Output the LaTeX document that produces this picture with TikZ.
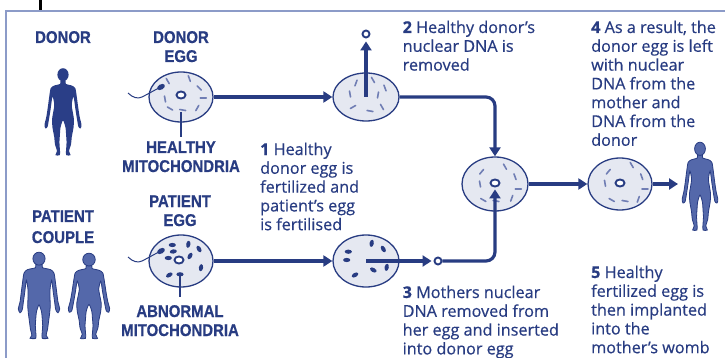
\documentclass[tikz,border=0pt]{standalone}
\usepackage{fontspec}
\setmainfont{Open Sans}[FakeBold=0.5]
\newfontfamily\capsfont{Liberation Sans}[FakeStretch=0.88, FakeBold=0.6]
\usetikzlibrary{arrows.meta,shapes.geometric}

\definecolor{navy}{RGB}{40,60,130}
\definecolor{darkfig}{RGB}{42,62,135}
\definecolor{figblue}{RGB}{84,104,170}
\definecolor{cellfill}{RGB}{229,232,241}
\definecolor{mito}{RGB}{112,126,180}
\definecolor{framec}{RGB}{140,155,200}

\tikzset{
  conn/.style={draw=navy, line width=3.2pt},
  arr/.style={conn, -{Triangle[length=9pt,width=11pt]}},
  cell/.style={ellipse, draw=navy, line width=1.3pt, fill=cellfill, inner sep=0pt},
  nucleus/.style={ellipse, draw=navy, line width=1.9pt, fill=white, minimum width=9pt, minimum height=7pt, inner sep=0pt},
  capslabel/.style={font=\capsfont\bfseries\fontsize{17}{19}\selectfont, text=navy, align=center, anchor=base, inner sep=0pt},
  body/.style={font=\fontsize{16.2}{18.8}\selectfont, text=navy, align=left, anchor=base west, inner sep=0pt},
  pointer/.style={draw=navy, line width=1.4pt},
  lightmito/.style={draw=mito, line width=1.6pt, line cap=round},
}

% light (healthy) mitochondrion: x, y, angle
\newcommand\lm[3]{\draw[lightmito] (#1,#2) ++(#3:-3) -- ++(#3:6);}
% dark (abnormal) mitochondrion: x, y, angle
\newcommand\dm[3]{\fill[navy, shift={(#1,#2)}, rotate=#3] (0,0) ellipse (3.6 and 2.1);}
% sperm cell attached to the left of an egg centred at x, y
\newcommand\sperm[2]{%
  \begin{scope}[shift={(#1,#2)}]
    \draw[navy, line width=1pt] (-53,-4) .. controls (-48,1) and (-43,2) .. (-39,0)
      .. controls (-33,-3) and (-28,-6) .. (-23,-8.5);
    \fill[navy, shift={(-20,-10)}, rotate=30] (0,0) ellipse (4.2 and 2.6);
  \end{scope}}

% silhouettes: x, top y, xscale, yscale, paint options
\newcommand\femalefig[5]{%
  \begin{scope}[shift={(#1,#2)}, xscale=#3, yscale=#4]
    \path[#5] plot[smooth cycle, tension=0.45] coordinates {
      (2.2,12.5) (2.5,16) (8,17.8) (11,20.5) (12.3,29) (13.6,40) (15,50)
      (16.5,57) (15.8,61) (13.8,59.5) (12.4,51) (11,41) (9.4,29) (7.8,37)
      (8.8,45) (9.8,52) (9.4,60) (7.8,70) (7.2,77) (5.4,84) (6.8,88) (2.8,88)
      (2.8,82) (3.2,75) (2.8,68) (2.2,60) (0,53)
      (-2.2,60) (-2.8,68) (-3.2,75) (-2.8,82) (-2.8,88) (-6.8,88) (-5.4,84)
      (-7.2,77) (-7.8,70) (-9.4,60) (-9.8,52) (-8.8,45) (-7.8,37) (-9.4,29)
      (-11,41) (-12.4,51) (-13.8,59.5) (-15.8,61) (-16.5,57) (-15,50)
      (-13.6,40) (-12.3,29) (-11,20.5) (-8,17.8) (-2.5,16) (-2.2,12.5)};
    \path[#5] (0,6.8) ellipse (5 and 6.6);
  \end{scope}}
\newcommand\malefig[5]{%
  \begin{scope}[shift={(#1,#2)}, xscale=#3, yscale=#4]
    \path[#5] plot[smooth cycle, tension=0.45] coordinates {
      (2.7,12.5) (3,16) (10,18) (13,21.5) (14.3,31) (15.5,42) (16.5,51)
      (18,58) (16.5,62) (14.6,59) (13.6,51) (12.4,41) (11,29) (9.6,38)
      (9.6,48) (9.8,55) (9.2,63) (8.2,72) (7.4,79) (6.2,85) (7.8,88) (2.8,88)
      (2.8,82) (3.2,75) (2.8,68) (2.2,61) (0,54)
      (-2.2,61) (-2.8,68) (-3.2,75) (-2.8,82) (-2.8,88) (-7.8,88) (-6.2,85)
      (-7.4,79) (-8.2,72) (-9.2,63) (-9.8,55) (-9.6,48) (-9.6,38) (-11,29)
      (-12.4,41) (-13.6,51) (-14.6,59) (-16.5,62) (-18,58) (-16.5,51)
      (-15.5,42) (-14.3,31) (-13,21.5) (-10,18) (-3,16) (-2.7,12.5)};
    \path[#5] (0,6.8) ellipse (5.3 and 6.6);
  \end{scope}}

\begin{document}
\begin{tikzpicture}[x=1pt, y=-1pt]
  \useasboundingbox (0,0) rectangle (725,358);
  \fill[white] (0,0) rectangle (725,358);

  % panel frame and marker
  \draw[framec, line width=1.5pt] (6,358) -- (6,11) -- (725,11);
  \fill[black] (38.5,0) rectangle (41.5,10);

  % people
  \femalefig{63}{68}{1.12}{0.99}{fill=darkfig}
  \malefig{39}{252}{1.15}{0.98}{fill=figblue, draw=navy, line width=0.8pt}
  \femalefig{89}{253}{1.25}{0.97}{fill=figblue, draw=navy, line width=0.8pt}
  \femalefig{700}{142}{1.08}{1.0}{fill=figblue, draw=navy, line width=0.8pt}

  % cells
  \node[cell, minimum width=64pt, minimum height=50pt] (egg1) at (181,97) {};
  \node[cell, minimum width=66pt, minimum height=48pt] (cell2) at (366,97) {};
  \node[cell, minimum width=64pt, minimum height=52pt] (egg2) at (181,261) {};
  \node[cell, minimum width=66pt, minimum height=52pt] (cell5) at (366,261) {};
  \node[cell, minimum width=66pt, minimum height=54pt] (cell3) at (495,184) {};
  \node[cell, minimum width=64pt, minimum height=52pt] (cell4) at (620,184) {};

  % healthy mitochondria
  \lm{167.7}{81}{60}\lm{189.3}{78.5}{70}\lm{199.3}{88}{45}\lm{203.3}{98}{0}
  \lm{197.3}{108}{120}\lm{182.7}{110}{10}\lm{170}{108.5}{30}\lm{165}{99}{80}
  \lm{356}{83}{110}\lm{373}{80}{60}\lm{350}{94}{80}\lm{378}{95}{100}
  \lm{385}{88}{70}\lm{353}{107}{150}\lm{370}{111}{10}\lm{382}{107}{60}
  \lm{481.7}{171.7}{130}\lm{505}{166.7}{60}\lm{515}{176.7}{70}\lm{518.3}{189.3}{0}
  \lm{511.7}{198.3}{110}\lm{496}{201}{10}\lm{483.3}{200}{30}\lm{480}{184}{80}
  \lm{608.3}{171.7}{130}\lm{631.7}{165}{60}\lm{641.7}{176.7}{70}\lm{645}{189.3}{0}
  \lm{638.3}{199.3}{110}\lm{625}{201}{10}\lm{611.7}{200}{30}\lm{605}{183.3}{80}

  % abnormal mitochondria
  \dm{172.3}{245}{0}\dm{188.3}{244.3}{80}\dm{199}{249}{-60}\dm{173.3}{251.5}{10}
  \dm{168.3}{258}{0}\dm{201}{267.7}{80}\dm{169.3}{275}{30}\dm{180}{274.3}{0}
  \dm{190}{256}{60}
  \dm{348.3}{251.7}{0}\dm{346.7}{260}{0}\dm{371.7}{243.3}{80}\dm{383.3}{249}{-60}
  \dm{386.7}{267.3}{80}\dm{355}{275}{30}\dm{373.3}{270}{-30}

  % sperm
  \sperm{181}{97}
  \sperm{181}{261}

  % nuclei
  \node[nucleus] (n1) at (181,95) {};
  \node[nucleus] (n2) at (179,260) {};
  \node[nucleus] (n3) at (495,183) {};
  \node[nucleus] (n4) at (620,183) {};
  \node[nucleus, minimum width=7pt, minimum height=7pt] (nucA) at (366,34) {};
  \node[nucleus, minimum width=7pt, minimum height=7pt] (nucB) at (438,261) {};

  % pointer lines to the mitochondria labels
  \coordinate (hm) at (181,137);
  \coordinate (am) at (180,297);
  \draw[pointer] (egg1.center) ++(0,15) -- (hm);
  \draw[pointer] (egg2.center) ++(-1,13) -- (am);

  % process arrows
  \draw[arr] (egg1.east) -- (cell2.west);
  \draw[arr, shorten >=3pt] (cell2.center) -- (nucA.south);
  \draw[arr, rounded corners=9pt] (cell2.east) -| (cell3.north);
  \draw[arr] (egg2.east) -- (cell5.west);
  \draw[arr, shorten >=2pt] (cell5.center) -- (nucB.west);
  \draw[arr, rounded corners=9pt, shorten >=2pt] (nucB.east) -| (n3.south);
  \draw[arr] (cell3.east) -- (cell4.west);
  \coordinate (womb) at (678,184);
  \draw[arr] (cell4.east) -- (womb);

  % labels (anchored at the baseline of their last line)
  \node[capslabel] (donorlbl) at (63,43) {DONOR};
  \node[capslabel] (donoregg) at (181,62) {DONOR\\EGG};
  \node[capslabel] (healthy) at (181,172) {HEALTHY\\MITOCHONDRIA};
  \node[capslabel] (patcouple) at (63,243) {PATIENT\\[2pt]COUPLE};
  \node[capslabel] (pategg) at (180,226) {PATIENT\\EGG};
  \node[capslabel] (abnormal) at (180,336) {ABNORMAL\\MITOCHONDRIA};

  % step descriptions (anchored at the baseline of their last line)
  \node[body] (s1) at (260,230.2) {{\bfseries 1} Healthy\\donor egg is\\fertilized and\\patient’s egg\\is fertilised};
  \node[body] (s2) at (402.5,70.6) {{\bfseries 2} Healthy donor’s\\nuclear DNA is\\removed};
  \node[body] (s3) at (402.5,354.4) {{\bfseries 3} Mothers nuclear\\DNA removed from\\her egg and inserted\\into donor egg};
  \node[body] (s4) at (591,145.8) {{\bfseries 4} As a result, the\\donor egg is left\\with nuclear\\DNA from the\\mother and\\DNA from the\\donor};
  \node[body] (s5) at (591,353.2) {{\bfseries 5} Healthy\\fertilized egg is\\then implanted\\into the\\mother’s womb};
\end{tikzpicture}
\end{document}
